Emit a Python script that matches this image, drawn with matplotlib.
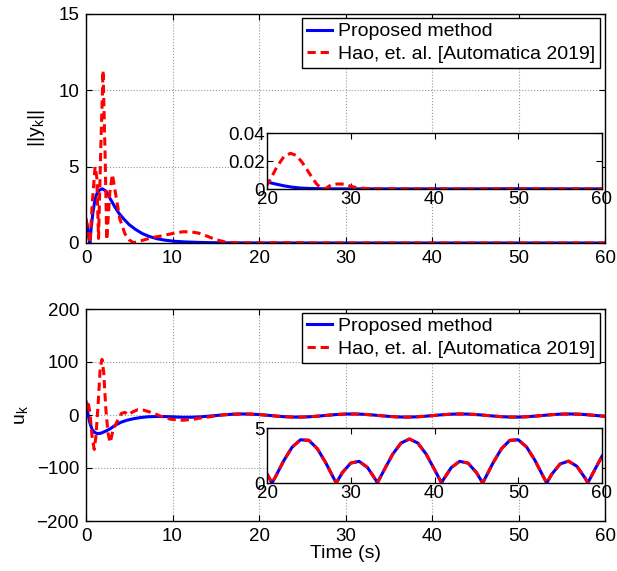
import numpy as np
import matplotlib
matplotlib.use('Agg')
import matplotlib.pyplot as plt

plt.rcParams['font.family'] = ['Liberation Sans', 'DejaVu Sans']
plt.rcParams['mathtext.fontset'] = 'custom'
plt.rcParams['mathtext.rm'] = 'Liberation Sans'
plt.rcParams['mathtext.it'] = 'Liberation Sans:italic'
plt.rcParams['mathtext.default'] = 'regular'

label_prop = 'Proposed method'
label_hao = 'Hao, et. al. [Automatica 2019]'

# ||y_k||, proposed method
t_y_prop = [0, 0.15, 0.3, 0.45, 0.6, 0.8, 1.0, 1.2, 1.5, 1.9, 2.3, 2.8, 3.3, 3.8, 4.4, 5.0,
            5.7, 6.5, 7.3, 8.2, 9.2, 10.3, 11.5, 13, 14.5, 16, 18, 20, 21, 22, 23, 24, 25,
            27, 30, 35, 40, 45, 50, 55, 60]
y_prop = [1.55, 1.1, 0.5, 0.0, 1.0, 2.0, 2.7, 3.15, 3.45, 3.55, 3.4, 2.9, 2.4, 1.95, 1.55, 1.2,
          0.9, 0.62, 0.43, 0.28, 0.18, 0.11, 0.07, 0.04, 0.022, 0.013, 0.008, 0.005, 0.0036,
          0.0023, 0.0013, 0.0007, 0.0004, 0.00015, 0.0001, 0.0001, 0.0001, 0.0001, 0.0002,
          0.0001, 0.0001]

# ||y_k||, Hao et al.
t_y_hao = [0, 0.2, 0.45, 0.75, 1.05, 1.25, 1.45, 1.7, 1.97, 2.2, 2.4, 2.75, 3.05, 3.4, 3.9,
           4.5, 5.0, 5.5, 6.2, 7.0, 7.8, 8.6, 9.5, 10.5, 11.3, 12.2, 13.0, 14.0, 15.0, 16.0,
           17.0, 18.0, 19.0, 20.0, 20.5, 21.2, 22.0, 22.8, 23.5, 24.2, 24.8, 25.4, 25.9,
           26.4, 27.0, 27.6, 28.4, 29.2, 30.0, 30.8, 32.0, 34.0, 40, 50, 60]
y_hao = [1.55, 1.0, 0.0, 2.8, 5.0, 4.3, 0.3, 6.0, 11.3, 6.0, 0.2, 3.3, 4.5, 3.3, 1.6,
         0.6, 0.2, 0.02, 0.12, 0.25, 0.37, 0.45, 0.56, 0.68, 0.74, 0.72, 0.65, 0.45, 0.22,
         0.08, 0.025, 0.009, 0.004, 0.0029, 0.008, 0.016, 0.023, 0.0255, 0.024, 0.019,
         0.0136, 0.008, 0.0038, 0.0008, 0.0003, 0.0028, 0.0036, 0.0035, 0.002, 0.0008,
         0.0003, 0.0001, 0.0001, 0.0001, 0.0001]

# u_k, early transient
t_u_prop = [0, 0.1, 0.25, 0.45, 0.7, 1.0, 1.3, 1.7, 2.2, 2.8, 3.4, 4.0, 4.7, 5.5, 6.3, 7.2,
            8.2, 9.2, 10.2, 11.2, 12.2, 13.2]
u_prop = [25, 15, 0, -15, -27, -33, -35, -34.5, -31, -26, -19, -14, -10, -7, -4.8, -3.3,
          -2.8, -3, -3.6, -4.3, -4.2, -3.5]
t_u_hao = [0, 0.2, 0.45, 0.7, 0.95, 1.15, 1.4, 1.65, 1.85, 2.05, 2.3, 2.55, 2.8, 3.1, 3.6,
           4.1, 4.5, 4.9, 5.4, 6.0, 6.7, 7.3, 8.0, 8.6, 9.8, 11.2, 12.4, 13.5, 14.5]
u_hao = [8, 27, 5, -40, -65, -40, 20, 90, 105, 80, 10, -35, -52, -30, -12,
         3, 5, 0, 6, 10, 9, 6, 2, -2, -8, -10, -8, -5, -3]

# u_k, steady oscillation (both methods coincide)
t_late = list(range(14, 61))
u_late = [-2.46, -1.02, 0.42, 1.51, 1.99, 1.74, 0.82, -0.55, -2.03, -3.26, -3.93, -3.88,
          -3.13, -1.86, -0.38, 0.95, 1.81, 1.97, 1.41, 0.26, -1.20, -2.61, -3.63, -4.00,
          -3.64, -2.63, -1.22, 0.24, 1.40, 1.97, 1.81, 0.96, -0.36, -1.84, -3.12, -3.88,
          -3.93, -3.27, -2.05, -0.57, 0.80, 1.73, 1.99, 1.52, 0.43, -1.01, -2.44]

# |u_k| zoomed, 20-60 s
t_ins = [20, 20.6, 21, 22, 23, 24, 25, 26, 27, 28, 28.27, 29, 30, 31, 32, 33, 33.17, 34, 35,
         36, 37, 38, 39, 40, 40.85, 41, 42, 43, 44, 45, 45.75, 46, 47, 48, 49, 50, 51, 52,
         53, 53.4, 54, 55, 56, 57, 58, 58.3, 59, 60]
u_ins = [0.82, 0, 0.55, 2.03, 3.26, 3.93, 3.88, 3.13, 1.86, 0.38, 0, 0.95, 1.81, 1.97, 1.41,
         0.26, 0, 1.20, 2.61, 3.63, 4.00, 3.64, 2.63, 1.22, 0, 0.24, 1.40, 1.97, 1.81, 0.96,
         0, 0.36, 1.84, 3.12, 3.88, 3.93, 3.27, 2.05, 0.57, 0, 0.80, 1.73, 1.99, 1.52, 0.43,
         0, 1.01, 2.44]

blue = '#0000ff'
red = '#ff0000'
lw = 2.2
dash = (2.7, 1.6)
fs = 13.5

t_u_prop_all = t_u_prop + t_late
u_prop_all = u_prop + u_late
t_u_hao_all = t_u_hao + t_late[1:]
u_hao_all = u_hao + u_late[1:]

fig = plt.figure(figsize=(6.17, 5.71), dpi=100)
ax1 = fig.add_axes([86 / 617, 1 - 243 / 571, 519 / 617, 229 / 571])
ax2 = fig.add_axes([86 / 617, 1 - 521 / 571, 519 / 617, 212 / 571])
ins1 = fig.add_axes([267 / 617, 1 - 189 / 571, 335 / 617, 56 / 571])
ins2 = fig.add_axes([267 / 617, 1 - 483 / 571, 335 / 617, 55 / 571])


def style(ax, pad):
    ax.tick_params(direction='in', top=True, right=True, length=4, width=0.8,
                   labelsize=fs, pad=pad)
    for s in ax.spines.values():
        s.set_linewidth(1.0)
        s.set_color('black')


for ax in (ax1, ax2):
    style(ax, 5)
    ax.grid(True, linestyle=':', color='#999999', linewidth=0.8)
    ax.set_xlim(0, 60)
    ax.set_xticks(np.arange(0, 61, 10))

for ax in (ins1, ins2):
    style(ax, 1.5)
    ax.set_xlim(20, 60)
    ax.set_xticks(np.arange(20, 61, 10))
    ax.set_facecolor('white')

# top: ||y_k||
ax1.plot(t_y_prop, y_prop, color=blue, lw=lw, label=label_prop)
ax1.plot(t_y_hao, y_hao, color=red, lw=lw, dashes=dash, label=label_hao)
ax1.set_ylim(0, 15)
ax1.set_yticks([0, 5, 10, 15])
ax1.set_ylabel('||y$_k$||', fontsize=fs + 0.5)
ax1.yaxis.set_label_coords(-0.075, 0.5)

ins1.plot(t_y_prop, y_prop, color=blue, lw=lw)
ins1.plot(t_y_hao, y_hao, color=red, lw=lw, dashes=dash)
ins1.set_ylim(0, 0.04)
ins1.set_yticks([0, 0.02, 0.04])
ins1.set_yticklabels(['0', '0.02', '0.04'])

# bottom: u_k
ax2.plot(t_u_prop_all, u_prop_all, color=blue, lw=lw, label=label_prop)
ax2.plot(t_u_hao_all, u_hao_all, color=red, lw=lw, dashes=dash, label=label_hao)
ax2.set_ylim(-200, 200)
ax2.set_yticks([-200, -100, 0, 100, 200])
ax2.set_ylabel('u$_k$', fontsize=fs + 0.5)
ax2.yaxis.set_label_coords(-0.108, 0.5)
ax2.set_xlabel('Time (s)', fontsize=fs + 0.5, labelpad=0)

ins2.plot(t_ins, u_ins, color=blue, lw=lw)
ins2.plot(t_ins, u_ins, color=red, lw=lw, dashes=dash)
ins2.set_ylim(0, 5)
ins2.set_yticks([0, 5])

for ax in (ax1, ax2):
    leg = ax.legend(loc='upper right', bbox_to_anchor=(1 - 5 / 519, 1 - 4 / 229),
                    borderaxespad=0, fontsize=fs + 0.5, frameon=True, fancybox=False,
                    framealpha=1, edgecolor='black', handlelength=1.3,
                    handletextpad=0.3, labelspacing=0.25, borderpad=0.25)
    leg.get_frame().set_linewidth(1.0)

fig.savefig('out.png', dpi=100)
